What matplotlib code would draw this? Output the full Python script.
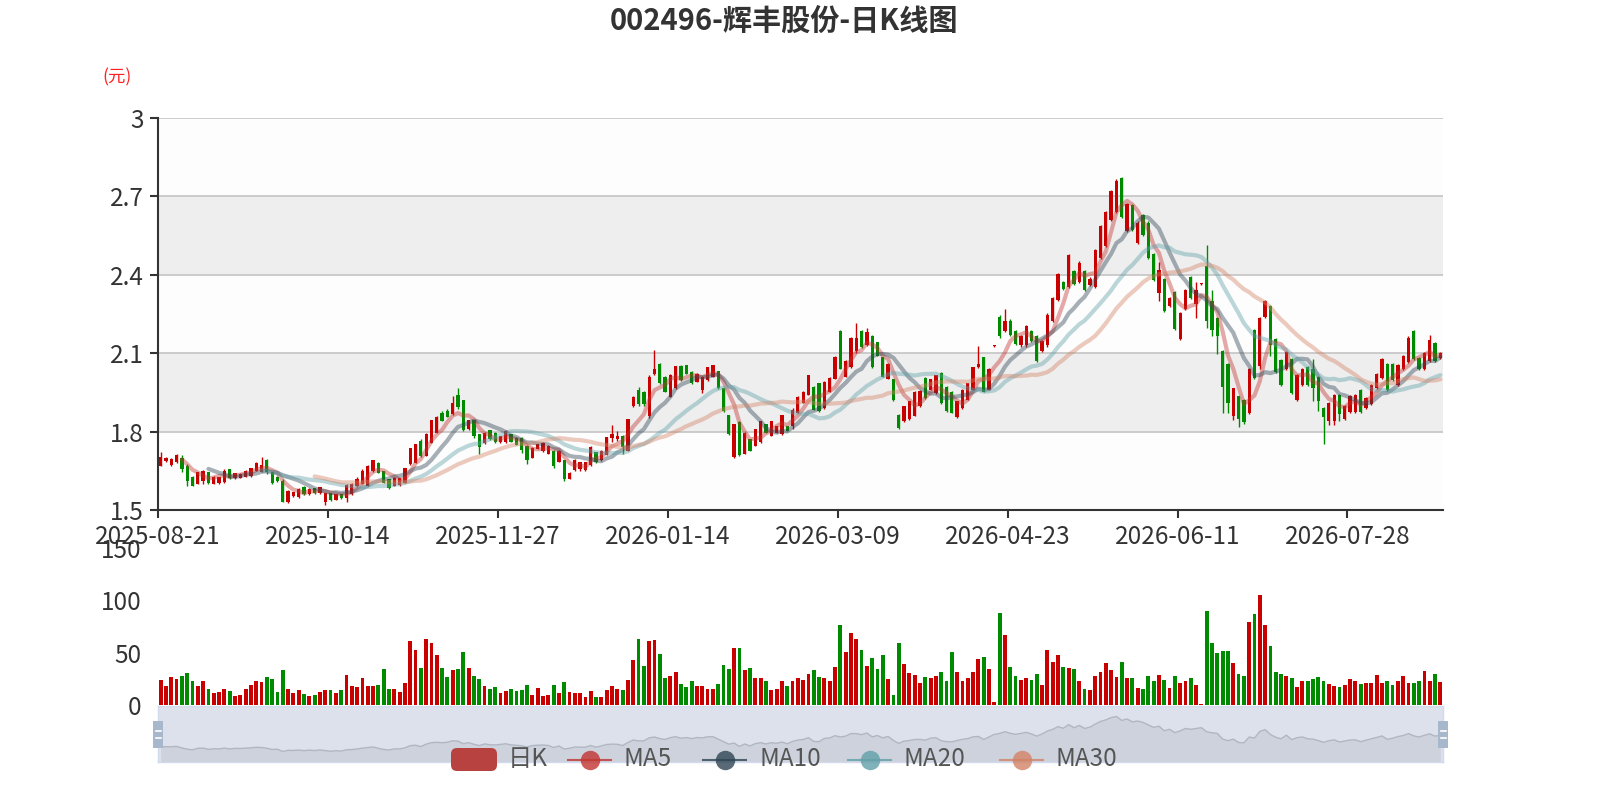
import numpy as np
import pandas as pd
import matplotlib
matplotlib.use("Agg")
import matplotlib.pyplot as plt
from matplotlib.patches import FancyBboxPatch, Rectangle

plt.rcParams['font.family'] = ['Noto Sans CJK SC', 'DejaVu Sans']

# x axis labels, one every 32 trading days
tick_labels = ['2025-08-21', '2025-10-14', '2025-11-27', '2026-01-14',
               '2026-03-09', '2026-04-23', '2026-06-11', '2026-07-28']

# daily candles (yuan)
open_ = [
    1.670, 1.689, 1.672, 1.683, 1.699, 1.667, 1.628, 1.600, 1.612, 1.644,
    1.600, 1.602, 1.606, 1.655, 1.621, 1.623, 1.627, 1.630, 1.651, 1.647,
    1.692, 1.644, 1.628, 1.612, 1.530, 1.553, 1.549, 1.587, 1.561, 1.584,
    1.564, 1.530, 1.564, 1.539, 1.561, 1.545, 1.561, 1.590, 1.600, 1.592,
    1.649, 1.681, 1.649, 1.618, 1.592, 1.594, 1.605, 1.675, 1.681, 1.765,
    1.707, 1.758, 1.796, 1.872, 1.880, 1.866, 1.940, 1.920, 1.809, 1.843,
    1.790, 1.755, 1.805, 1.796, 1.760, 1.760, 1.790, 1.777, 1.777, 1.745,
    1.700, 1.735, 1.725, 1.715, 1.726, 1.685, 1.690, 1.620, 1.652, 1.655,
    1.652, 1.671, 1.721, 1.690, 1.712, 1.775, 1.770, 1.784, 1.727, 1.897,
    1.960, 1.953, 1.860, 2.020, 2.060, 2.010, 1.934, 1.966, 2.051, 2.054,
    2.028, 1.991, 1.960, 1.997, 2.010, 2.031, 1.966, 1.863, 1.702, 1.838,
    1.715, 1.771, 1.746, 1.759, 1.828, 1.784, 1.796, 1.790, 1.820, 1.822,
    1.872, 1.910, 1.941, 1.972, 1.985, 1.890, 1.953, 2.003, 2.185, 2.010,
    2.047, 2.110, 2.185, 2.130, 2.166, 2.141, 2.085, 2.003, 2.000, 1.865,
    1.840, 1.847, 1.860, 1.897, 2.006, 1.960, 1.947, 2.026, 1.972, 1.953,
    1.855, 1.890, 1.922, 1.960, 2.047, 2.085, 1.960, 2.127, 2.240, 2.185,
    2.225, 2.185, 2.130, 2.130, 2.185, 2.166, 2.110, 2.130, 2.222, 2.304,
    2.372, 2.354, 2.416, 2.372, 2.416, 2.360, 2.354, 2.466, 2.510, 2.610,
    2.641, 2.772, 2.566, 2.666, 2.520, 2.629, 2.600, 2.479, 2.330, 2.385,
    2.279, 2.335, 2.154, 2.270, 2.390, 2.290, 2.364, 2.435, 2.300, 2.235,
    2.110, 2.060, 1.860, 1.935, 1.920, 1.870, 2.190, 2.050, 2.240, 2.280,
    2.154, 2.073, 2.040, 2.079, 1.922, 1.979, 2.047, 2.040, 2.010, 1.891,
    1.840, 1.840, 1.941, 1.850, 1.875, 1.875, 1.960, 1.890, 1.904, 1.966,
    2.004, 2.060, 2.060, 1.980, 2.041, 2.066, 2.185, 2.080, 2.040, 2.070,
    2.140, 2.080]

close = [
    1.704, 1.699, 1.697, 1.712, 1.657, 1.612, 1.592, 1.644, 1.651, 1.605,
    1.628, 1.625, 1.650, 1.621, 1.641, 1.638, 1.650, 1.660, 1.680, 1.672,
    1.645, 1.605, 1.610, 1.532, 1.574, 1.568, 1.581, 1.561, 1.581, 1.564,
    1.587, 1.564, 1.540, 1.561, 1.545, 1.595, 1.600, 1.620, 1.650, 1.669,
    1.690, 1.643, 1.605, 1.585, 1.624, 1.622, 1.660, 1.736, 1.752, 1.705,
    1.790, 1.843, 1.854, 1.841, 1.856, 1.910, 1.895, 1.805, 1.843, 1.785,
    1.740, 1.796, 1.770, 1.760, 1.783, 1.803, 1.762, 1.750, 1.730, 1.690,
    1.739, 1.752, 1.758, 1.745, 1.670, 1.726, 1.620, 1.643, 1.690, 1.683,
    1.683, 1.742, 1.683, 1.727, 1.778, 1.790, 1.785, 1.740, 1.847, 1.934,
    1.905, 1.905, 2.010, 2.040, 1.985, 1.953, 2.018, 2.050, 1.997, 2.022,
    1.985, 2.022, 2.010, 2.047, 2.054, 1.966, 1.878, 1.790, 1.828, 1.709,
    1.796, 1.727, 1.809, 1.840, 1.796, 1.840, 1.821, 1.863, 1.803, 1.884,
    1.934, 1.953, 2.016, 1.884, 1.878, 1.991, 2.006, 2.087, 2.041, 2.072,
    2.160, 2.160, 2.123, 2.180, 2.047, 2.091, 2.010, 2.060, 1.920, 1.815,
    1.897, 1.916, 1.953, 1.956, 1.928, 2.000, 2.016, 1.909, 1.878, 1.872,
    1.916, 1.960, 1.985, 2.047, 2.060, 1.953, 2.041, 2.130, 2.165, 2.225,
    2.170, 2.135, 2.166, 2.204, 2.148, 2.070, 2.148, 2.248, 2.310, 2.404,
    2.347, 2.476, 2.366, 2.447, 2.341, 2.385, 2.494, 2.585, 2.641, 2.720,
    2.760, 2.622, 2.672, 2.572, 2.600, 2.554, 2.466, 2.379, 2.420, 2.260,
    2.310, 2.194, 2.254, 2.340, 2.310, 2.340, 2.368, 2.222, 2.190, 2.166,
    1.970, 1.910, 1.966, 1.848, 1.835, 2.040, 2.004, 2.235, 2.300, 2.130,
    2.029, 1.979, 2.104, 1.948, 2.016, 2.041, 1.979, 1.966, 1.916, 1.854,
    1.910, 1.941, 1.866, 1.897, 1.935, 1.941, 1.876, 1.929, 1.979, 2.022,
    2.079, 1.960, 1.997, 2.054, 2.091, 2.160, 2.079, 2.040, 2.100, 2.150,
    2.070, 2.100]

low = [
    1.668, 1.685, 1.670, 1.680, 1.644, 1.590, 1.590, 1.598, 1.600, 1.600,
    1.598, 1.600, 1.604, 1.619, 1.619, 1.621, 1.625, 1.628, 1.649, 1.645,
    1.638, 1.600, 1.606, 1.530, 1.528, 1.549, 1.547, 1.559, 1.559, 1.562,
    1.562, 1.519, 1.536, 1.537, 1.542, 1.530, 1.559, 1.587, 1.598, 1.590,
    1.647, 1.641, 1.603, 1.579, 1.590, 1.592, 1.603, 1.673, 1.679, 1.701,
    1.705, 1.756, 1.794, 1.839, 1.854, 1.864, 1.885, 1.803, 1.807, 1.777,
    1.713, 1.753, 1.768, 1.758, 1.758, 1.758, 1.760, 1.748, 1.720, 1.675,
    1.698, 1.733, 1.723, 1.713, 1.662, 1.683, 1.611, 1.618, 1.648, 1.650,
    1.648, 1.669, 1.681, 1.688, 1.710, 1.759, 1.765, 1.715, 1.725, 1.895,
    1.897, 1.897, 1.853, 2.016, 1.983, 1.951, 1.932, 1.964, 1.995, 2.020,
    1.983, 1.989, 1.947, 1.995, 2.008, 1.964, 1.876, 1.788, 1.700, 1.707,
    1.713, 1.725, 1.744, 1.757, 1.794, 1.782, 1.794, 1.788, 1.801, 1.810,
    1.870, 1.908, 1.939, 1.882, 1.876, 1.888, 1.951, 2.001, 2.039, 2.008,
    2.045, 2.100, 2.121, 2.128, 2.045, 2.089, 2.008, 2.001, 1.918, 1.810,
    1.838, 1.845, 1.858, 1.895, 1.926, 1.958, 1.945, 1.907, 1.876, 1.870,
    1.853, 1.888, 1.920, 1.958, 2.045, 1.951, 1.958, 2.125, 2.160, 2.180,
    2.165, 2.130, 2.125, 2.125, 2.143, 2.066, 2.105, 2.125, 2.218, 2.300,
    2.343, 2.350, 2.362, 2.368, 2.337, 2.356, 2.350, 2.462, 2.505, 2.605,
    2.636, 2.618, 2.562, 2.568, 2.516, 2.550, 2.462, 2.375, 2.300, 2.256,
    2.275, 2.190, 2.150, 2.266, 2.306, 2.235, 2.362, 2.198, 2.166, 2.097,
    1.872, 1.872, 1.844, 1.816, 1.830, 1.866, 2.000, 2.041, 2.236, 2.091,
    2.025, 1.975, 2.036, 1.944, 1.918, 1.975, 1.975, 1.916, 1.879, 1.754,
    1.826, 1.826, 1.841, 1.846, 1.871, 1.871, 1.872, 1.886, 1.900, 1.962,
    2.000, 1.956, 1.993, 1.976, 2.037, 2.062, 2.075, 2.036, 2.036, 2.066,
    2.066, 2.076]

high = [
    1.721, 1.702, 1.699, 1.714, 1.712, 1.675, 1.632, 1.646, 1.653, 1.646,
    1.632, 1.628, 1.655, 1.657, 1.643, 1.641, 1.652, 1.662, 1.683, 1.704,
    1.694, 1.646, 1.630, 1.619, 1.576, 1.570, 1.583, 1.590, 1.583, 1.586,
    1.589, 1.566, 1.566, 1.563, 1.563, 1.600, 1.602, 1.625, 1.657, 1.671,
    1.692, 1.683, 1.651, 1.620, 1.626, 1.624, 1.662, 1.738, 1.754, 1.771,
    1.796, 1.845, 1.860, 1.879, 1.885, 1.936, 1.968, 1.922, 1.845, 1.845,
    1.792, 1.798, 1.807, 1.798, 1.785, 1.805, 1.792, 1.779, 1.779, 1.747,
    1.741, 1.754, 1.760, 1.747, 1.728, 1.728, 1.692, 1.645, 1.696, 1.685,
    1.685, 1.744, 1.723, 1.729, 1.780, 1.824, 1.803, 1.786, 1.849, 1.936,
    1.972, 1.955, 2.018, 2.114, 2.062, 2.012, 2.020, 2.052, 2.053, 2.056,
    2.030, 2.024, 2.012, 2.049, 2.056, 2.033, 1.968, 1.865, 1.830, 1.840,
    1.798, 1.773, 1.811, 1.842, 1.830, 1.842, 1.823, 1.865, 1.822, 1.890,
    1.936, 1.955, 2.018, 1.974, 1.987, 1.993, 2.008, 2.089, 2.187, 2.074,
    2.162, 2.217, 2.187, 2.198, 2.168, 2.143, 2.087, 2.062, 2.002, 1.867,
    1.899, 1.918, 1.955, 1.958, 2.008, 2.002, 2.018, 2.028, 1.974, 1.955,
    1.918, 1.962, 1.987, 2.049, 2.128, 2.087, 2.043, 2.132, 2.245, 2.270,
    2.230, 2.190, 2.170, 2.208, 2.190, 2.170, 2.152, 2.252, 2.315, 2.408,
    2.376, 2.480, 2.420, 2.452, 2.420, 2.390, 2.498, 2.590, 2.646, 2.725,
    2.765, 2.776, 2.676, 2.670, 2.605, 2.633, 2.605, 2.483, 2.450, 2.389,
    2.314, 2.339, 2.258, 2.344, 2.394, 2.372, 2.370, 2.514, 2.341, 2.238,
    2.113, 2.063, 1.968, 1.938, 1.924, 2.043, 2.194, 2.238, 2.304, 2.284,
    2.158, 2.077, 2.108, 2.083, 2.020, 2.045, 2.051, 2.079, 2.014, 1.895,
    1.914, 1.945, 1.945, 1.901, 1.939, 1.945, 1.964, 1.933, 1.983, 2.026,
    2.083, 2.064, 2.064, 2.058, 2.095, 2.164, 2.189, 2.084, 2.104, 2.170,
    2.144, 2.104]

# daily volume
volume = [
    24, 18, 26.5, 25, 28, 31, 23, 18, 23, 15,
    11.5, 12, 15, 13.5, 9, 10, 15, 19, 23, 22,
    26.5, 25, 12, 33, 15, 11, 14, 10.5, 9, 10,
    12, 14, 14, 11, 14, 29, 18, 17, 26, 18,
    18, 19, 34, 15.5, 15, 12, 21, 61, 53, 35,
    63, 59, 47.5, 35, 26.5, 33, 34, 51, 35, 28,
    25, 18, 15, 17, 11.5, 13, 15.5, 13, 14, 19,
    10, 16.5, 8.5, 10, 19, 11.5, 21.5, 12, 11, 11,
    8, 13, 8, 7.5, 14, 18, 15, 14, 24, 43,
    63, 37.5, 61, 62, 49, 26, 28, 32, 20, 17.5,
    23, 18, 18, 15.5, 15.5, 20, 38.5, 34, 54, 54,
    33, 35,
    26, 26, 23, 14, 15, 23, 18, 22.5, 26, 24,
    30, 33, 27, 26, 22.5, 36.5, 76, 51, 69, 63,
    52.5, 37, 45, 34, 48, 25, 10, 59, 39, 31,
    29, 21, 27, 26, 28, 32, 23, 51, 31.5, 23,
    26, 32, 44, 46, 34, 3, 88, 66.5, 36.5, 28,
    24, 26, 24, 30, 19, 53, 41, 48, 36.5, 35.5,
    34, 23, 15, 14, 28, 32, 40, 33, 27, 41,
    26, 26, 16, 15, 28, 23, 29, 24, 16, 28,
    21, 22.5, 26, 19, 1, 90, 59, 50, 51.5, 51.5,
    40, 30, 28, 79, 86.5, 105, 76, 56, 32, 30,
    28, 26, 17, 22.5, 22.5, 25, 27, 23, 20, 18.5,
    17, 19, 25, 23, 20, 21, 21, 29, 21, 22.5,
    19, 23, 28, 21, 21, 23, 32.5, 23, 30, 22]

df = pd.DataFrame({'open': open_, 'close': close, 'low': low, 'high': high,
                   'volume': volume})
ma_days = [5, 10, 20, 30]
ma_colors = ['#c23531', '#2f4554', '#61a0a8', '#d48265']
for d in ma_days:
    df[f'MA{d}'] = df['close'].rolling(d).mean()

n = len(df)
x = np.arange(n)
up = df['close'] >= df['open']
candle_colors = np.where(up, '#c80000', '#008a00')

W, H = 1600, 800
FS = 17.5
fig = plt.figure(figsize=(16, 8), dpi=100)
L, R = 158, 1443
ax = fig.add_axes([L / W, 1 - 510 / H, (R - L) / W, (510 - 118) / H])
axv = fig.add_axes([L / W, 1 - 705 / H, (R - L) / W, (705 - 548) / H])
axs = fig.add_axes([L / W, 1 - 762 / H, (R - L) / W, 56 / H])

# ---- price panel ----
levels = [1.5, 1.8, 2.1, 2.4, 2.7, 3.0]
for k in range(len(levels) - 1):
    ax.axhspan(levels[k], levels[k + 1], color='#fdfdfd' if k % 2 == 0 else '#eeeeee',
               lw=0, zorder=0)
for lv in levels[1:]:
    ax.axhline(lv, color='#c8c8c8', lw=1.3, zorder=1)

body_bot = df[['open', 'close']].min(axis=1)
body_h = (df['close'] - df['open']).abs().clip(lower=0.004)
ax.vlines(x, df['low'], df['high'], colors=candle_colors, lw=1.0, zorder=2)
ax.bar(x, body_h, bottom=body_bot, width=0.62, color=candle_colors, lw=0, zorder=3)

for d, c in zip(ma_days, ma_colors):
    ax.plot(x, df[f'MA{d}'], color=c, lw=3.0, alpha=0.42, zorder=4,
            solid_capstyle='round')

ax.set_xlim(-0.5, n - 0.5)
ax.set_ylim(1.5, 3.0)
ax.set_yticks(levels)
ax.set_yticklabels(['1.5', '1.8', '2.1', '2.4', '2.7', '3'])
tick_pos = np.arange(0, n, 32)[:len(tick_labels)] - 0.5
ax.set_xticks(tick_pos)
ax.set_xticklabels(tick_labels)
for s in ['top', 'right']:
    ax.spines[s].set_visible(False)
for s in ['left', 'bottom']:
    ax.spines[s].set_color('#333333')
    ax.spines[s].set_linewidth(1.5)
ax.tick_params(axis='both', direction='out', length=6, width=1.5, color='#333333',
               labelsize=FS, labelcolor='#333333', pad=4)

# ---- volume panel ----
axv.bar(x, df['volume'], width=0.72, color=candle_colors, lw=0)
axv.set_xlim(-0.5, n - 0.5)
axv.set_ylim(0, 150)
axv.set_yticks([0, 50, 100, 150])
axv.set_xticks([])
for s in axv.spines.values():
    s.set_visible(False)
axv.tick_params(axis='y', length=0, labelsize=FS, labelcolor='#333333', pad=12)
axv.patch.set_alpha(0)

# ---- data zoom slider ----
cmin, cmax = df['close'].min(), df['close'].max()
pad = (cmax - cmin) * 0.3
axs.set_facecolor('#dce1eb')
axs.fill_between(x, cmin - pad, df['close'], color='#cdd2dc', lw=0)
axs.plot(x, df['close'], color='#b0b6c2', lw=1.0)
axs.set_xlim(-0.5, n - 0.5)
axs.set_ylim(cmin - pad, cmax + pad)
axs.set_xticks([])
axs.set_yticks([])
for s in axs.spines.values():
    s.set_color('#d2dbee')
    s.set_linewidth(1)

# overlay in pixel coordinates for slider handles, legend and labels
ov = fig.add_axes([0, 0, 1, 1], zorder=10)
ov.set_xlim(0, W)
ov.set_ylim(H, 0)
ov.axis('off')
for hx in (L, R):
    ov.add_patch(Rectangle((hx - 5, 721), 10, 27, color='#a7b7cc', lw=0))
    ov.plot([hx - 2.5, hx + 2.5], [731, 731], color='white', lw=1.2)
    ov.plot([hx - 2.5, hx + 2.5], [738, 738], color='white', lw=1.2)

ov.add_patch(FancyBboxPatch((451, 748), 46, 23,
                            boxstyle='round,pad=0,rounding_size=6',
                            color='#b84240', lw=0))
ov.text(508, 759, '日K', fontsize=FS, color='#555555', va='center', ha='left')
legend_items = [(568, 'MA5'), (703, 'MA10'), (848, 'MA20'), (1000, 'MA30')]
for (lx, name), c in zip(legend_items, ma_colors):
    ov.plot([lx, lx + 43], [760, 760], color=c, lw=1.5, alpha=0.8)
    ov.plot(lx + 21.5, 760, 'o', ms=14, color=c, alpha=0.8, mew=0)
    ov.text(lx + 56, 759, name, fontsize=FS, color='#555555', va='center', ha='left')

fig.text(0.49, 1 - 22 / H, '002496-辉丰股份-日K线图', ha='center', va='center',
         fontsize=21, fontweight='bold', color='#333333')
fig.text(117 / W, 1 - 77 / H, '(元)', ha='center', va='center', fontsize=12.5,
         color='#ff2020')

fig.savefig('out.png', dpi=100)
